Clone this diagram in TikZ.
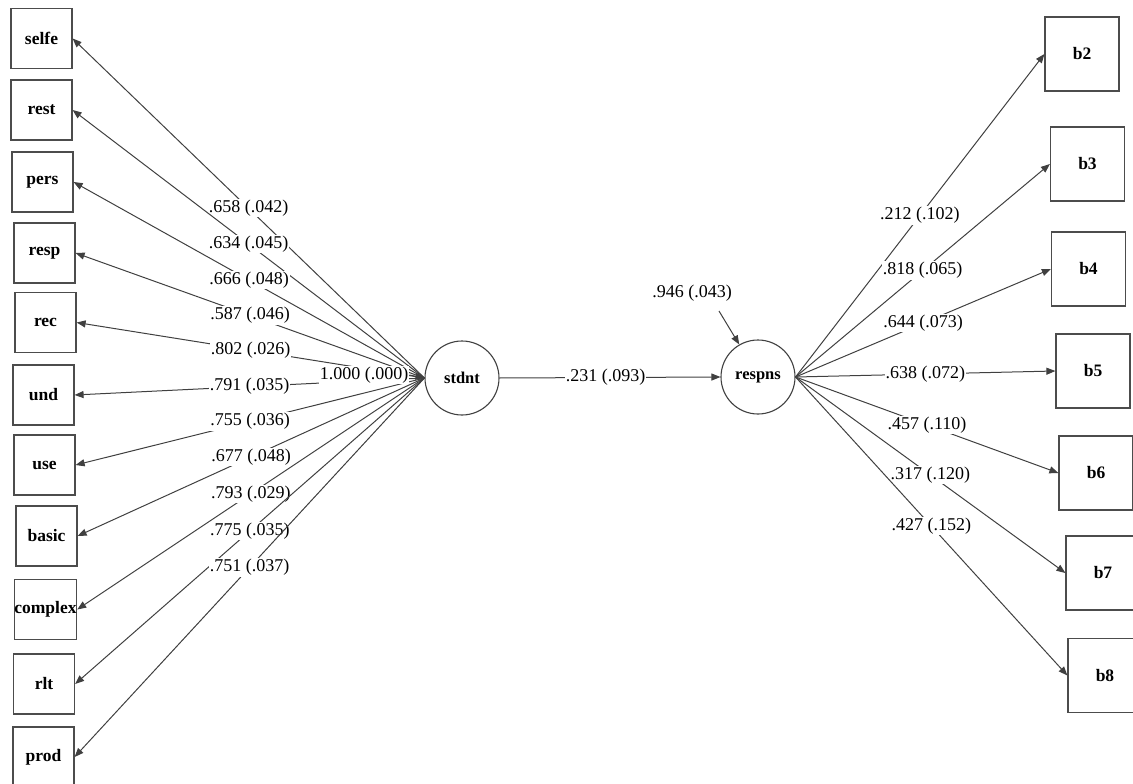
\documentclass[tikz,border=0pt]{standalone}
\usepackage{fontspec}
\setmainfont{Liberation Serif}
\usetikzlibrary{arrows.meta}
\begin{document}
\begin{tikzpicture}[x=1pt,y=-1pt,
  line/.style={draw=black!75,line width=1pt},
  arr/.style={line,-{Triangle[length=9pt,width=7pt]}},
  lbox/.style={draw=black!70,line width=1.2pt,minimum width=61pt,minimum height=60pt,inner sep=0pt,font=\fontsize{17.5}{19}\selectfont\bfseries},
  rbox/.style={draw=black!70,line width=1.2pt,minimum width=74pt,minimum height=74pt,inner sep=0pt,font=\fontsize{17.5}{19}\selectfont\bfseries},
  lat/.style={circle,draw=black!75,line width=1.1pt,minimum size=74pt,inner sep=0pt,font=\fontsize{16.5}{18}\selectfont\bfseries},
  est/.style={fill=white,inner sep=1pt,font=\fontsize{18}{20}\selectfont}
]
\useasboundingbox (0,0) rectangle (1133,784);
% left indicators
\node[lbox] (selfe) at (41.5,38.5) {selfe};
\node[lbox] (rest) at (41.5,110) {rest};
\node[lbox] (pers) at (42.5,182) {pers};
\node[lbox] (resp) at (44.5,253) {resp};
\node[lbox] (rec) at (45.5,322.5) {rec};
\node[lbox] (und) at (43.5,395) {und};
\node[lbox] (use) at (44.5,465) {use};
\node[lbox] (basic) at (46.5,536) {basic};
\node[lbox] (complex) at (45.5,609.5) {complex};
\node[lbox] (rlt) at (44,684) {rlt};
\node[lbox] (prod) at (43.5,757) {prod};
% latent variables
\node[lat] (stdnt) at (462,378) {stdnt};
\node[lat] (respns) at (758,377) {respns};
% right indicators
\node[rbox] (b2) at (1082,54) {b2};
\node[rbox] (b3) at (1087.5,164) {b3};
\node[rbox] (b4) at (1088.5,269) {b4};
\node[rbox] (b5) at (1093,371) {b5};
\node[rbox] (b6) at (1096,473) {b6};
\node[rbox] (b7) at (1103,573) {b7};
\node[rbox] (b8) at (1105,675.5) {b8};
% left loadings
\draw[arr] (stdnt.west) -- node[est,pos=0.5] {.658 (.042)} (selfe.east);
\draw[arr] (stdnt.west) -- node[est,pos=0.5] {.634 (.045)} (rest.east);
\draw[arr] (stdnt.west) -- node[est,pos=0.5] {.666 (.048)} (pers.east);
\draw[arr] (stdnt.west) -- node[est,pos=0.5] {.587 (.046)} (resp.east);
\draw[arr] (stdnt.west) -- node[est,pos=0.5] {.802 (.026)} (rec.east);
\draw[arr] (stdnt.west) -- node[est,pos=0.5] {.791 (.035)} (und.east);
\draw[arr] (stdnt.west) -- node[est,pos=0.5] {.755 (.036)} (use.east);
\draw[arr] (stdnt.west) -- node[est,pos=0.5] {.677 (.048)} (basic.east);
\draw[arr] (stdnt.west) -- node[est,pos=0.5] {.793 (.029)} (complex.east);
\draw[arr] (stdnt.west) -- node[est,pos=0.5] {.775 (.035)} (rlt.east);
\draw[arr] (stdnt.west) -- node[est,pos=0.5] {.751 (.037)} (prod.east);
% variance of stdnt
\node[est] (var) at (364,375) {1.000 (.000)};
\draw[arr] (var.east) -- (stdnt.west);
% structural path
\draw[arr] (stdnt.east) -- node[est,pos=0.48] {.231 (.093)} (respns.west);
% residual
\node[est] (res) at (692,293) {.946 (.043)};
\coordinate (resstart) at (719,311);
\draw[arr] (resstart) -- (respns.120);
% right loadings
\draw[arr] (respns.east) -- node[est,pos=0.5] {.212 (.102)} (b2.west);
\draw[arr] (respns.east) -- node[est,pos=0.5] {.818 (.065)} (b3.west);
\draw[arr] (respns.east) -- node[est,pos=0.5] {.644 (.073)} (b4.west);
\draw[arr] (respns.east) -- node[est,pos=0.5] {.638 (.072)} (b5.west);
\draw[arr] (respns.east) -- node[est,pos=0.5] {.457 (.110)} (b6.west);
\draw[arr] (respns.east) -- node[est,pos=0.5] {.317 (.120)} (b7.west);
\draw[arr] (respns.east) -- node[est,pos=0.5] {.427 (.152)} (b8.west);
\end{tikzpicture}
\end{document}
